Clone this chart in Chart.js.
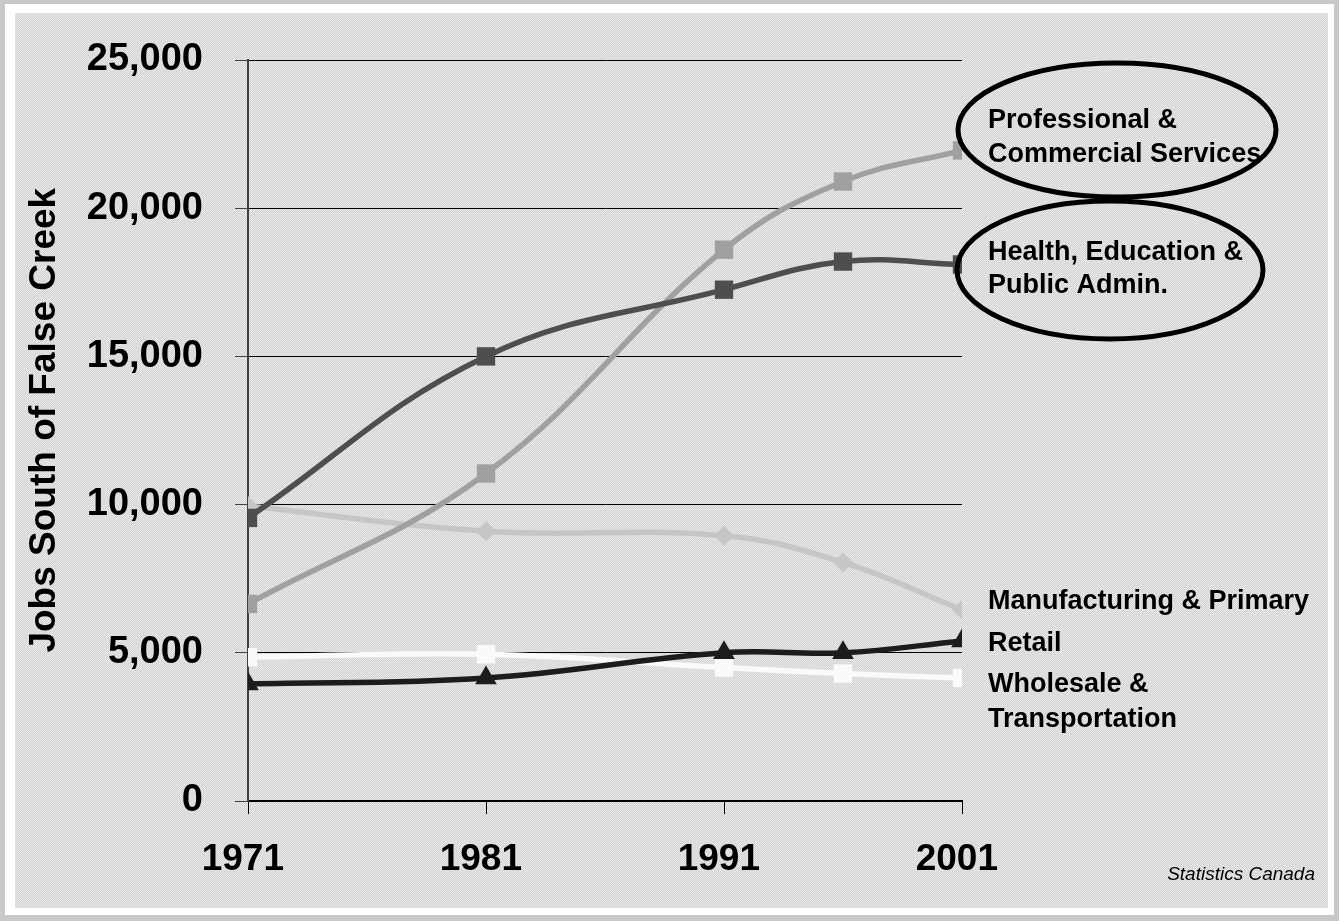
<!DOCTYPE html>
<html>
<head>
<meta charset="utf-8">
<script src="https://cdn.jsdelivr.net/npm/chart.js@4"></script>
<style>
  html, body { margin: 0; padding: 0; }
  body { width: 1339px; height: 921px; background: #c8c8c8; position: relative; overflow: hidden; }
  #frame { position: absolute; left: 5px; top: 4px; width: 1329px; height: 911px; background: #ffffff; }
  #plot {
    position: absolute; left: 15px; top: 13px; width: 1313px; height: 895px;
    background-color: #dedede;
    background-image: repeating-conic-gradient(#d4d4d4 0 25%, #e7e7e7 0 50%);
    background-size: 2px 2px;
  }
  canvas { position: absolute; left: 15px; top: 13px; }
</style>
</head>
<body>
<div id="frame"></div>
<div id="plot"></div>
<canvas id="chart" width="1313" height="895"></canvas>
<script>
// data
const years = [1971, 1981, 1991, 1996, 2001];
const yearTicks = [1971, 1981, 1991, 2001];
const professional = [6650, 11050, 18600, 20900, 21950];
const health = [9550, 15000, 17250, 18200, 18100];
const manufacturing = [9950, 9100, 8950, 8050, 6450];
const retail = [3950, 4150, 5000, 5000, 5400];
const wholesale = [4850, 4950, 4500, 4300, 4150];

const FONT = "'Liberation Sans', Arial, sans-serif";

function pts(values) {
  return years.map((y, i) => ({ x: y, y: values[i] }));
}

function series(label, values, color, style, radius, order) {
  return {
    label: label,
    data: pts(values),
    borderColor: color,
    backgroundColor: color,
    borderWidth: 5.5,
    pointStyle: style,
    pointRadius: radius,
    pointBorderWidth: 0,
    pointBackgroundColor: color,
    tension: 0.4,
    order: order
  };
}

// side labels + ellipses
const annotations = {
  id: 'annotations',
  afterDatasetsDraw(chart) {
    const ctx = chart.ctx;
    const x = chart.scales.x.getPixelForValue(2001) + 26;
    ctx.save();
    ctx.fillStyle = '#000';
    ctx.font = 'bold 27px ' + FONT;
    ctx.textBaseline = 'alphabetic';
    ctx.textAlign = 'left';
    const lines = [
      ['Professional &', 115], ['Commercial Services', 149],
      ['Health, Education &', 247], ['Public Admin.', 280],
      ['Manufacturing & Primary', 596], ['Retail', 638],
      ['Wholesale &', 679], ['Transportation', 714]
    ];
    lines.forEach(l => ctx.fillText(l[0], x, l[1]));

    ctx.strokeStyle = '#000';
    ctx.lineWidth = 5;
    ctx.beginPath();
    ctx.ellipse(1102, 117, 159, 67, 0, 0, Math.PI * 2);
    ctx.stroke();
    ctx.beginPath();
    ctx.ellipse(1095, 257, 153, 69, 0, 0, Math.PI * 2);
    ctx.stroke();

    ctx.font = 'italic 19px ' + FONT;
    ctx.textAlign = 'right';
    ctx.fillText('Statistics Canada', 1300, 867);
    ctx.restore();
  }
};

new Chart(document.getElementById('chart'), {
  type: 'line',
  data: {
    datasets: [
      series('Professional & Commercial Services', professional, '#a0a0a0', 'rect', 13, 2),
      series('Health, Education & Public Admin.', health, '#4e4e4e', 'rect', 13, 1),
      series('Manufacturing & Primary', manufacturing, '#c6c6c6', 'rectRot', 10, 5),
      series('Retail', retail, '#1c1c1c', 'triangle', 12.5, 3),
      series('Wholesale & Transportation', wholesale, '#fafafa', 'rect', 13, 4)
    ]
  },
  options: {
    responsive: false,
    animation: false,
    layout: { padding: { left: 0, top: 47, right: 366, bottom: 0 } },
    plugins: {
      legend: { display: false },
      tooltip: { enabled: false }
    },
    scales: {
      x: {
        type: 'linear',
        min: 1971,
        max: 2001,
        afterBuildTicks: s => { s.ticks = yearTicks.map(v => ({ value: v })); },
        afterFit: s => { s.height = 107; },
        border: { color: '#000', width: 2 },
        grid: { drawOnChartArea: false, drawTicks: true, tickLength: 13, color: '#000', lineWidth: 1 },
        ticks: {
          padding: 24,
          maxRotation: 0,
          color: '#000',
          font: { family: FONT, size: 37, weight: 'bold' },
          callback: v => v + ' '
        }
      },
      y: {
        min: 0,
        max: 25000,
        afterFit: s => { s.width = 233; s.paddingTop = 0; s.paddingBottom = 0; },
        border: { color: '#404040', width: 2 },
        grid: { color: '#000', lineWidth: 1, tickLength: 13, tickColor: '#404040' },
        ticks: {
          stepSize: 5000,
          padding: 32,
          color: '#000',
          font: { family: FONT, size: 38, weight: 'bold' },
          callback: v => v.toLocaleString('en-US')
        },
        title: {
          display: true,
          text: '  Jobs South of False Creek',
          color: '#000',
          padding: { top: 8, bottom: 0 },
          font: { family: FONT, size: 37, weight: 'bold' }
        }
      }
    }
  },
  plugins: [annotations]
});
</script>
</body>
</html>
